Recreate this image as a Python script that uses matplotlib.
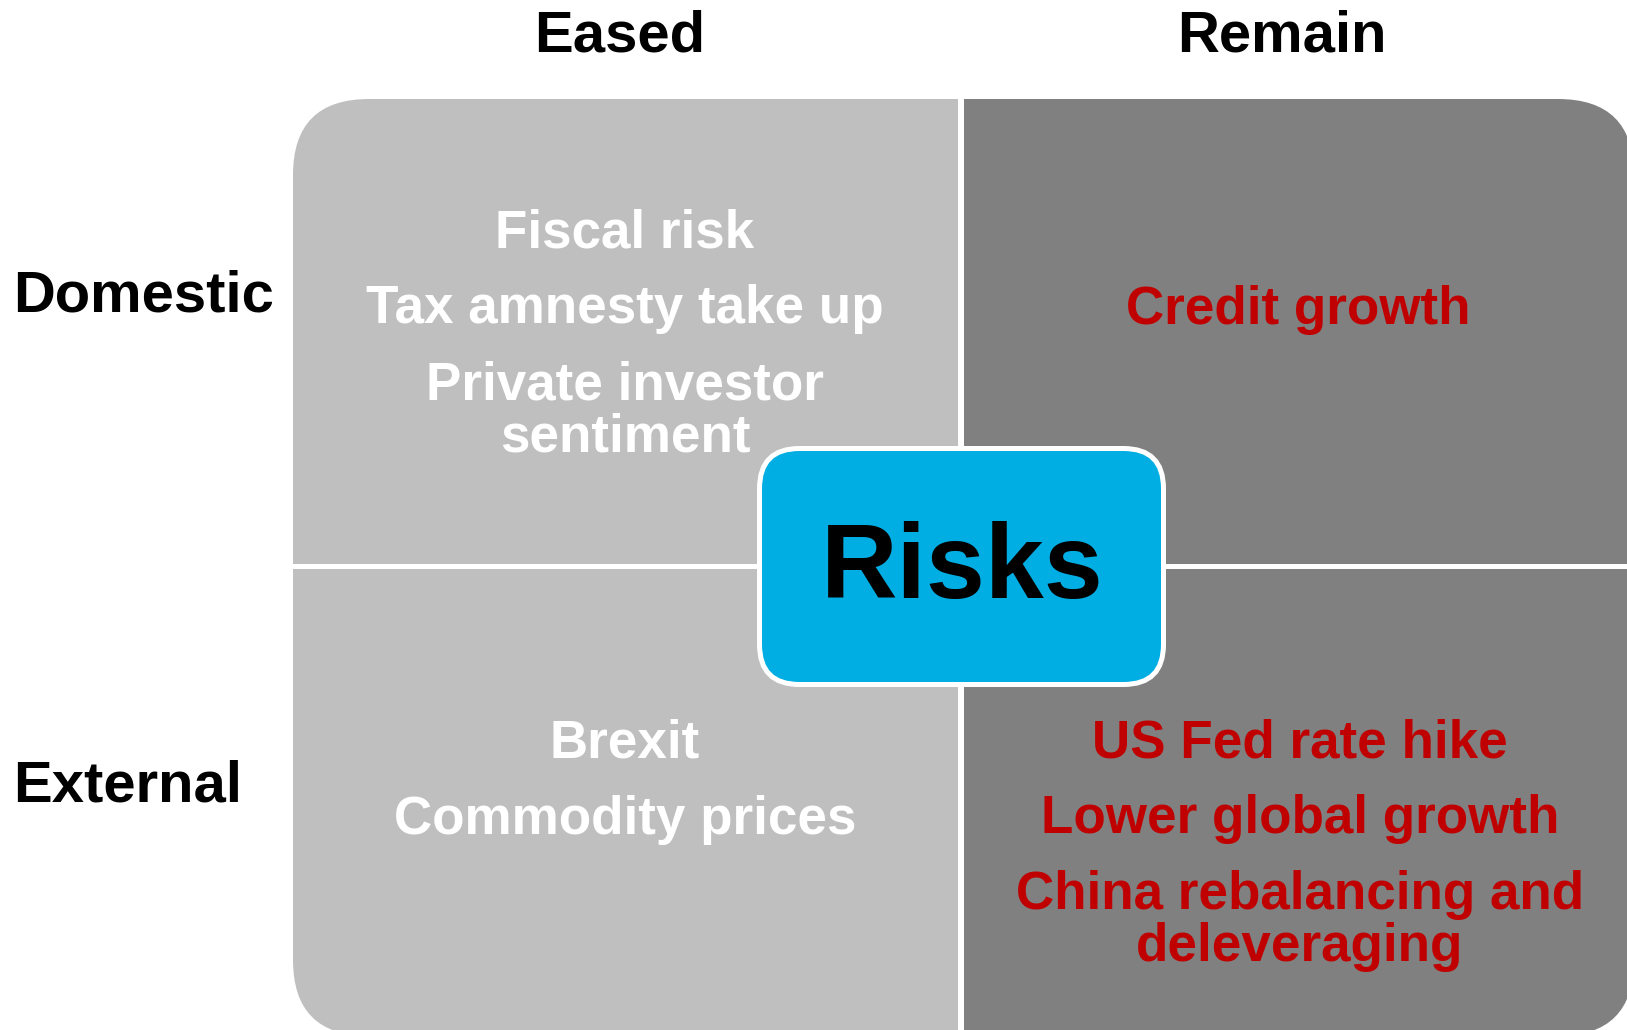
import matplotlib
matplotlib.use("Agg")
import matplotlib.pyplot as plt
from matplotlib.patches import FancyBboxPatch, Rectangle

# ---- content ----
columns = ["Eased", "Remain"]
rows = ["Domestic", "External"]
center_label = "Risks"
eased_domestic = ["Fiscal risk", "Tax amnesty take up", "Private investor\nsentiment"]
remain_domestic = ["Credit growth"]
eased_external = ["Brexit", "Commodity prices"]
remain_external = ["US Fed rate hike", "Lower global growth", "China rebalancing and\ndeleveraging"]

# ---- style / layout ----
W, H, DPI = 1627, 1030, 100
FONT = "Liberation Sans"
LIGHT = "#BFBFBF"
DARK = "#808080"
RED = "#C00000"
BLUE = "#00AEE4"
PT = 72.0 / DPI  # points per pixel

box_left, box_top, box_right, box_bottom = 293, 99, 1634, 1036
split_x, split_y = 961, 565.5
risk_box = (759.5, 448.5, 1163.5, 684.5)

fig = plt.figure(figsize=(W / DPI, H / DPI), dpi=DPI)
ax = fig.add_axes([0, 0, 1, 1])
ax.set_xlim(0, W)
ax.set_ylim(H, 0)
ax.axis("off")

outer = FancyBboxPatch((box_left, box_top), box_right - box_left, box_bottom - box_top,
                       boxstyle="round,pad=0,rounding_size=76",
                       facecolor="none", edgecolor="none")
ax.add_patch(outer)

left_rect = Rectangle((box_left, box_top), split_x - box_left, box_bottom - box_top,
                      facecolor=LIGHT, edgecolor="none")
right_rect = Rectangle((split_x, box_top), box_right - split_x, box_bottom - box_top,
                       facecolor=DARK, edgecolor="none")
for r in (left_rect, right_rect):
    ax.add_patch(r)
    r.set_clip_path(outer)

vl = ax.plot([split_x, split_x], [box_top - 5, box_bottom + 5], color="white",
             lw=6 * PT, solid_capstyle="butt")[0]
hl = ax.plot([box_left - 5, box_right + 5], [split_y, split_y], color="white",
             lw=5 * PT, solid_capstyle="butt")[0]
vl.set_clip_path(outer)
hl.set_clip_path(outer)

rx0, ry0, rx1, ry1 = risk_box
ax.add_patch(FancyBboxPatch((rx0, ry0), rx1 - rx0, ry1 - ry0,
                            boxstyle="round,pad=0,rounding_size=40",
                            facecolor=BLUE, edgecolor="white", lw=5 * PT, zorder=5))
ax.text(962, 598, center_label, ha="center", va="baseline", fontsize=106 * PT,
        fontweight="bold", family=FONT, color="black", zorder=6)

# headers
header_size = 58 * PT
col_x = [620, 1282]
for name, x in zip(columns, col_x):
    ax.text(x, 52, name, ha="center", va="baseline", fontsize=header_size,
            fontweight="bold", family=FONT, color="black")
row_y = [312, 801]
for name, y in zip(rows, row_y):
    ax.text(13, y, name, ha="left", va="baseline", fontsize=header_size,
            fontweight="bold", family=FONT, color="black")

# quadrant items
item_size = 53 * PT
item_pitch = 76
wrap_pitch = 52
quadrants = [
    (eased_domestic, 625, 247, "white"),
    (remain_domestic, 1298, 324, RED),
    (eased_external, 625, 758, "white"),
    (remain_external, 1300, 757, RED),
]
for items, cx, y0, col in quadrants:
    y = y0
    for item in items:
        lines = item.split("\n")
        for j, line in enumerate(lines):
            ax.text(cx, y + j * wrap_pitch, line, ha="center", va="baseline",
                    fontsize=item_size, fontweight="bold", family=FONT, color=col,
                    zorder=4)
        y += item_pitch + (len(lines) - 1) * wrap_pitch

fig.savefig("out.png", dpi=DPI)
